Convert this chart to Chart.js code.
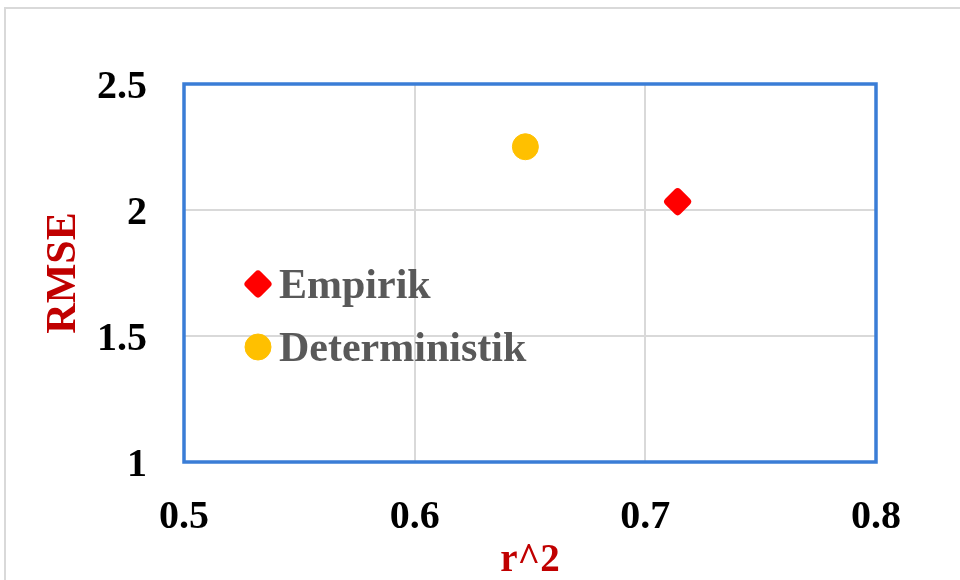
<!DOCTYPE html>
<html><head><meta charset="utf-8">
<script src="https://cdn.jsdelivr.net/npm/chart.js@4"></script>
<style>
html,body{margin:0;padding:0;background:#fff;}
#wrap{position:relative;width:960px;height:580px;overflow:hidden;background:#fff;}
#frame{position:absolute;left:4px;top:7px;width:1000px;height:1000px;border:2px solid #d9d9d9;box-sizing:border-box;}
canvas{position:absolute;left:0;top:0;}
</style></head><body>
<div id="wrap"><div id="frame"></div><canvas id="c" width="960" height="580"></canvas></div>
<script>
const seriesNames = ['Empirik', 'Deterministik'];
const empirikX = [0.714];
const empirikY = [2.033];
const deterministikX = [0.648];
const deterministikY = [2.251];
const xTickValues = [0.5, 0.6, 0.7, 0.8];
const xTickLabels = ['0.5', '0.6', '0.7', '0.8'];
const yTickValues = [1, 1.5, 2, 2.5];
const yTickLabels = ['1', '1.5', '2', '2.5'];
const xTitle = 'r^2';
const yTitle = 'RMSE';

const toPoints = (xs, ys) => xs.map((x, i) => ({x: x, y: ys[i]}));
const FONT = '"Liberation Serif", "Times New Roman", serif';

const frameBorder = {
  id: 'frameBorder',
  beforeDatasetsDraw(chart) {
    const {ctx, chartArea: a} = chart;
    ctx.save();
    ctx.strokeStyle = '#3a7dd6';
    ctx.lineWidth = 3.5;
    ctx.strokeRect(a.left, a.top, a.right - a.left, a.bottom - a.top);
    ctx.restore();
    ctx.lineJoin = 'round';
  }
};

const insideLegend = {
  id: 'insideLegend',
  afterDatasetsDraw(chart) {
    const {ctx, chartArea: a} = chart;
    ctx.save();
    chart.data.datasets.forEach((ds, i) => {
      const x = a.left + 74;
      const y = a.top + 200 + i * 63;
      ctx.fillStyle = ds.backgroundColor;
      ctx.strokeStyle = ds.borderColor;
      ctx.lineWidth = ds.borderWidth;
      ctx.lineJoin = 'round';
      Chart.helpers.drawPoint(ctx, {pointStyle: ds.pointStyle, radius: ds.pointRadius, borderWidth: ds.borderWidth, rotation: 0}, x, y);
      ctx.fillStyle = '#595959';
      ctx.font = 'bold 42px ' + FONT;
      ctx.textBaseline = 'alphabetic';
      ctx.textAlign = 'left';
      ctx.fillText(ds.label, x + 21, y + 14);
    });
    ctx.restore();
  }
};

new Chart(document.getElementById('c'), {
  type: 'scatter',
  data: {
    datasets: [
      {
        label: seriesNames[0],
        data: toPoints(empirikX, empirikY),
        pointStyle: 'rectRot',
        pointRadius: 9.5,
        pointHoverRadius: 9.5,
        borderWidth: 8,
        backgroundColor: '#ff0000',
        borderColor: '#ff0000'
      },
      {
        label: seriesNames[1],
        data: toPoints(deterministikX, deterministikY),
        pointStyle: 'circle',
        pointRadius: 13,
        pointHoverRadius: 13,
        borderWidth: 1,
        backgroundColor: '#ffc000',
        borderColor: '#ffc000'
      }
    ]
  },
  options: {
    responsive: false,
    animation: false,
    events: [],
    layout: {padding: {top: 84, right: 84, left: 0, bottom: 0}},
    plugins: {legend: {display: false}, tooltip: {enabled: false}},
    scales: {
      x: {
        type: 'linear',
        min: 0.5, max: 0.8,
        afterBuildTicks: s => { s.ticks = xTickValues.map(v => ({value: v})); },
        afterFit: s => { s.height = 118; },
        ticks: {
          callback: (v, i) => xTickLabels[i],
          font: {family: FONT, size: 40, weight: 'bold'},
          color: '#000000',
          padding: 32,
          maxRotation: 0
        },
        grid: {color: '#d9d9d9', lineWidth: 2, drawTicks: false},
        border: {display: false},
        title: {
          display: true, text: xTitle, color: '#c00000',
          font: {family: FONT, size: 39, weight: 'bold', lineHeight: 1},
          padding: {top: 0, bottom: 0}
        }
      },
      y: {
        type: 'linear',
        min: 1, max: 2.5,
        afterBuildTicks: s => { s.ticks = yTickValues.map(v => ({value: v})); },
        afterFit: s => { s.width = 184; },
        ticks: {
          callback: (v, i) => yTickLabels[i],
          font: {family: FONT, size: 40, weight: 'bold'},
          color: '#000000',
          padding: 37,
          labelOffset: 4
        },
        grid: {color: '#d9d9d9', lineWidth: 2, drawTicks: false},
        border: {display: false},
        title: {
          display: true, text: yTitle, color: '#c00000',
          font: {family: FONT, size: 42, weight: 'bold', lineHeight: 1},
          padding: {top: 43, bottom: 0}
        }
      }
    }
  },
  plugins: [frameBorder, insideLegend]
});
</script>
</body></html>
